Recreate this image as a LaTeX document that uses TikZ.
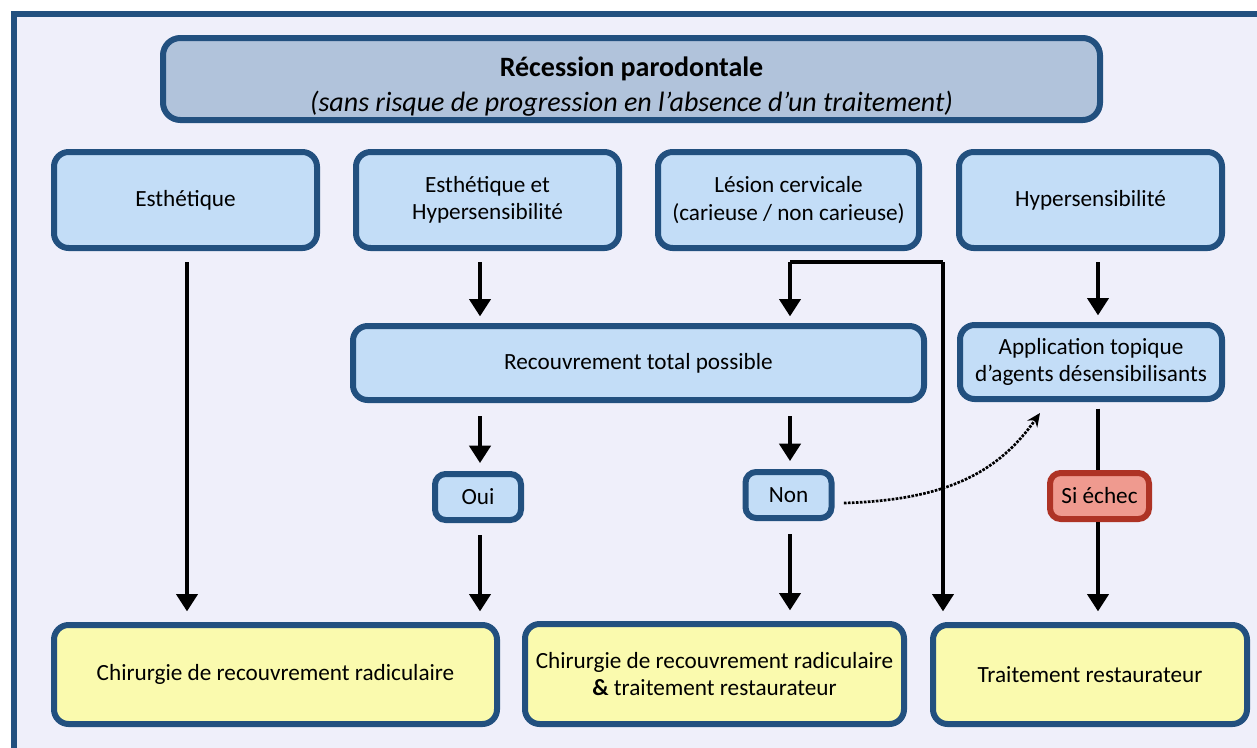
\documentclass[tikz,border=0pt]{standalone}
\usepackage{fontspec}
\setmainfont{Carlito}
\usetikzlibrary{arrows.meta,shadows}
\definecolor{frameblue}{HTML}{22507F}
\definecolor{bgl}{HTML}{EFEFFA}
\definecolor{lblue}{HTML}{C3DDF7}
\definecolor{tblue}{HTML}{B1C3DB}
\definecolor{lyel}{HTML}{FAFAAE}
\definecolor{lred}{HTML}{EF9A8F}
\definecolor{dred}{HTML}{AE3325}
\tikzset{
  box/.style={draw=frameblue, line width=4.5pt, rounded corners=11pt, align=center,
    font=\fontsize{17.4}{20.5}\selectfont, inner sep=2pt,
    drop shadow={opacity=0.25, shadow xshift=1pt, shadow yshift=-1.5pt}},
  bluebox/.style={box, fill=lblue},
  yelbox/.style={box, fill=lyel},
  smallbox/.style={box, fill=lblue, rounded corners=8pt, minimum width=64.5pt, minimum height=34.5pt},
  redbox/.style={box, draw=dred, fill=lred, rounded corners=8pt, minimum width=74.25pt, minimum height=34.5pt},
  conn/.style={line width=2.5pt, black},
  arr/.style={conn, -{Triangle[width=16pt,length=13pt]}},
  dotarr/.style={line width=2pt, densely dotted, -{Stealth[length=10pt,width=9pt]}}
}
\begin{document}
\begin{tikzpicture}[x=0.75pt,y=-0.75pt]
\useasboundingbox (0,0) rectangle (1257,747);
\fill[white] (0,0) rectangle (1257,747);
\draw[draw=frameblue, fill=bgl, line width=4pt] (14,14) rectangle (1275,765);

\node[box, fill=tblue, minimum width=702.75pt, minimum height=61.5pt, rounded corners=13pt,
  font=\fontsize{21}{26}\selectfont] (title) at (631.5,79)
  {\rule{0pt}{26pt}\textbf{Récession parodontale}\\{\itshape (sans risque de progression en l’absence d’un traitement)}};

\node[bluebox, minimum width=197.25pt, minimum height=72pt] (e1) at (185.5,200) {Esthétique};
\node[bluebox, minimum width=197.25pt, minimum height=72pt] (e2) at (487.5,200) {Esthétique et\\Hypersensibilité};
\node[bluebox, minimum width=195.75pt, minimum height=72pt] (e3) at (788.5,200) {Lésion cervicale\\(carieuse / non carieuse)};
\node[bluebox, minimum width=197.25pt, minimum height=72pt] (e4) at (1090.5,200) {Hypersensibilité};

\node[bluebox, minimum width=428.25pt, minimum height=55.5pt] (rec) at (638.5,363) {Recouvrement total possible};
\node[bluebox, minimum width=196.5pt, minimum height=55.5pt] (app) at (1091,362) {Application topique\\d’agents désensibilisants};

\node[smallbox] (oui) at (478,497) {Oui};
\node[smallbox] (non) at (788.5,495) {Non};
\node[redbox] (echec) at (1099.5,496) {Si échec};

\node[yelbox, minimum width=332.25pt, minimum height=74.25pt] (b1) at (275.5,674.5) {Chirurgie de recouvrement radiculaire};
\node[yelbox, minimum width=284.25pt, minimum height=75pt] (b2) at (714.5,674) {Chirurgie de recouvrement radiculaire\\\textbf{\&} traitement restaurateur};
\node[yelbox, minimum width=235.5pt, minimum height=74.25pt] (b3) at (1090,674.5) {Traitement restaurateur};

\coordinate (c1) at (187,262);
\coordinate (c2) at (480,262);
\coordinate (j1) at (790,262);
\coordinate (j2) at (943,262);
\coordinate (c4) at (1098,262);

% Esthetique
\draw[arr, shorten >=8pt] (c1) -- (c1 |- b1.north);
% Esthetique et hyp
\draw[arr, shorten >=5pt] (c2) -- (c2 |- rec.north);
\draw[arr, shorten <=10pt, shorten >=6pt] (c2 |- rec.south) -- (c2 |- oui.north);
\draw[arr, shorten <=9pt, shorten >=8pt] (c2 |- oui.south) -- (c2 |- b1.north);
% Lesion
\draw[conn] (j1) -- (j2);
\draw[arr, shorten >=5pt] (j1) -- (j1 |- rec.north);
\draw[arr, shorten >=8pt] (j2) -- (j2 |- b3.north);
\draw[arr, shorten <=10pt, shorten >=6pt] (j1 |- rec.south) -- (j1 |- non.north);
\draw[arr, shorten <=10pt, shorten >=8pt] (j1 |- non.south) -- (j1 |- b2.north);
% Hypersensibilite
\draw[arr, shorten >=5pt] (c4) -- (c4 |- app.north);
\draw[conn, shorten <=5pt] (c4 |- app.south) -- (c4 |- echec.north);
\draw[arr, shorten >=8pt] (c4 |- echec.south) -- (c4 |- b3.north);
% dotted
\draw[dotarr] ([xshift=7pt,yshift=-6pt]non.east) .. controls (950,500) and (1000,470) .. (1040,413);
\end{tikzpicture}
\end{document}
